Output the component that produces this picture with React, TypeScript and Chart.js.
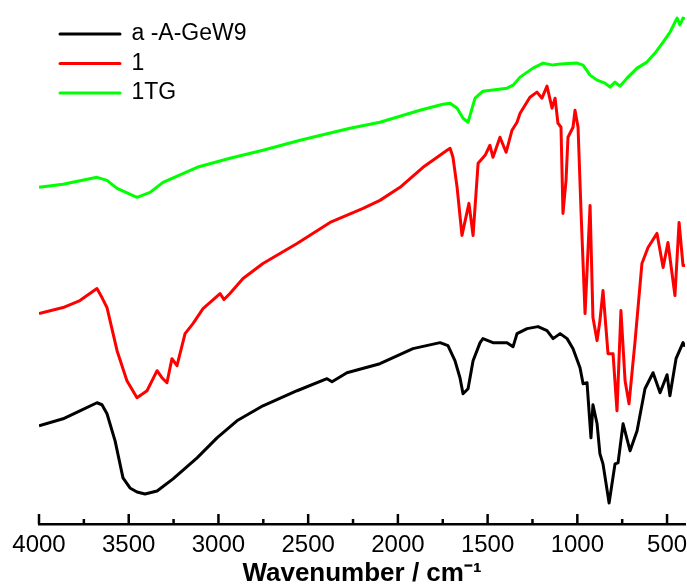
import React, { useEffect, useRef } from "react";
import { Chart, registerables } from "chart.js";

Chart.register(...registerables);

// Wavenumber (cm^-1) and transmittance (arbitrary, offset units)
const blackWavenumbers = [4000, 3866, 3772, 3677, 3649, 3621, 3576, 3532, 3493, 3454, 3409, 3342, 3253, 3119, 3008, 2897, 2752, 2562, 2395, 2367, 2284, 2100, 1916, 1765, 1721, 1682, 1654, 1637, 1620, 1609, 1581, 1542, 1526, 1470, 1392, 1358, 1336, 1280, 1219, 1169, 1135, 1096, 1057, 1024, 985, 968, 946, 924, 913, 890, 874, 857, 823, 790, 773, 745, 706, 667, 623, 578, 539, 500, 484, 450, 411, 400];
const blackValues = [98, 105, 113, 121, 119, 110, 83, 46, 36, 32, 30, 33, 45, 66, 86, 103, 118, 133, 145, 142, 151, 160, 175, 181, 178, 163, 146, 130, 133, 135, 163, 181, 185, 181, 181, 177, 190, 195, 197, 193, 185, 190, 185, 175, 156, 140, 141, 86, 119, 100, 70, 60, 21, 60, 61, 100, 73, 93, 135, 151, 131, 149, 128, 165, 181, 177];

const redWavenumbers = [4000, 3866, 3772, 3677, 3649, 3621, 3565, 3510, 3454, 3398, 3342, 3315, 3287, 3259, 3231, 3186, 3142, 3086, 2991, 2969, 2936, 2863, 2752, 2562, 2378, 2194, 2100, 1988, 1860, 1726, 1709, 1693, 1670, 1643, 1604, 1581, 1553, 1514, 1487, 1470, 1431, 1397, 1364, 1336, 1319, 1264, 1225, 1197, 1169, 1141, 1124, 1108, 1091, 1080, 1063, 1052, 1024, 1013, 996, 979, 957, 929, 913, 890, 874, 857, 829, 801, 779, 757, 734, 712, 678, 640, 606, 556, 522, 495, 456, 433, 411, 400];
const redValues = [210, 216, 223, 235, 226, 216, 173, 143, 126, 133, 153, 146, 141, 165, 158, 190, 200, 215, 230, 224, 230, 245, 260, 280, 301, 315, 323, 336, 356, 373, 375, 366, 336, 288, 320, 288, 360, 368, 378, 366, 386, 371, 393, 401, 410, 426, 431, 425, 437, 415, 425, 400, 396, 310, 343, 386, 396, 413, 396, 310, 210, 318, 206, 183, 203, 233, 170, 170, 113, 213, 143, 120, 183, 260, 276, 290, 256, 281, 228, 301, 258, 258];

const greenWavenumbers = [4000, 3866, 3677, 3621, 3565, 3454, 3381, 3309, 3119, 2936, 2752, 2545, 2267, 2100, 1877, 1749, 1709, 1670, 1637, 1609, 1570, 1526, 1392, 1358, 1319, 1247, 1191, 1135, 1096, 1002, 968, 929, 890, 846, 818, 790, 762, 723, 667, 612, 567, 522, 483, 444, 428, 411, 400];
const greenValues = [336, 339, 346, 343, 335, 326, 331, 341, 356, 365, 373, 383, 395, 401, 413, 419, 420, 415, 405, 401, 425, 432, 435, 438, 446, 455, 460, 458, 459, 460, 458, 448, 443, 440, 436, 441, 437, 445, 455, 461, 470, 481, 491, 505, 498, 505, 504];

const seriesLabels = ["a -A-GeW9", "1", "1TG"];
const tickValues = [500, 750, 1000, 1250, 1500, 1750, 2000, 2250, 2500, 2750, 3000, 3250, 3500, 3750, 4000];
const labeledTicks = [500, 1000, 1500, 2000, 2500, 3000, 3500, 4000];

const FONT = "'Liberation Sans', Arial, Helvetica, sans-serif";

const toPoints = (xs: number[], ys: number[]) => xs.map((x, i) => ({ x, y: ys[i] }));

const innerTicks = {
  id: "innerTicks",
  afterDraw(chart: any) {
    const scale = chart.scales.x;
    const ctx = chart.ctx;
    const y0 = scale.top;
    ctx.save();
    ctx.strokeStyle = "#000";
    ctx.lineWidth = 2.5;
    scale.ticks.forEach((t: any) => {
      const x = scale.getPixelForValue(t.value);
      const len = labeledTicks.includes(t.value) ? 10 : 5;
      ctx.beginPath();
      ctx.moveTo(x, y0);
      ctx.lineTo(x, y0 - len);
      ctx.stroke();
    });
    ctx.restore();
  },
};

const legendShift = {
  id: "legendShift",
  afterLayout(chart: any) {
    const lg = chart.legend;
    if (lg) {
      lg.left += 14.5;
      lg.top += 16;
    }
  },
};

export default function App() {
  const ref = useRef<HTMLCanvasElement>(null);
  useEffect(() => {
    if (!ref.current) return;
    const mk = (label: string, xs: number[], ys: number[], color: string) => ({
      label,
      data: toPoints(xs, ys),
      borderColor: color,
      backgroundColor: color,
      borderWidth: 3,
      pointRadius: 0,
      tension: 0,
      borderJoinStyle: "round" as const,
    });
    const chart = new Chart(ref.current, {
      type: "line",
      data: {
        datasets: [
          mk(seriesLabels[0], blackWavenumbers, blackValues, "#000000"),
          mk(seriesLabels[1], redWavenumbers, redValues, "#ff0000"),
          mk(seriesLabels[2], greenWavenumbers, greenValues, "#00ff00"),
        ],
      },
      options: {
        animation: false,
        responsive: false,
        devicePixelRatio: 1,
        events: [],
        layout: { padding: { left: 39, right: 2, top: 13, bottom: 0 } },
        scales: {
          x: {
            type: "linear",
            reverse: true,
            min: 400,
            max: 4000,
            afterBuildTicks: (s: any) => {
              s.ticks = tickValues.map((v) => ({ value: v }));
            },
            ticks: {
              autoSkip: false,
              maxRotation: 0,
              minRotation: 0,
              padding: 9,
              color: "#000",
              font: { family: FONT, size: 24, lineHeight: 1 },
              callback: (v: any) => (labeledTicks.includes(Number(v)) ? String(v) : ""),
            },
            grid: { display: false, drawTicks: false, tickLength: 0 },
            border: { display: true, color: "#000", width: 2.5 },
            title: {
              display: true,
              text: "Wavenumber / cm⁻¹",
              color: "#000",
              font: { family: FONT, size: 26, weight: "bold", lineHeight: 1 },
              padding: { top: -5, bottom: -3 },
            },
          },
          y: { display: false, min: 0, max: 510 },
        },
        plugins: {
          legend: {
            position: "chartArea",
            align: "start",
            labels: {
              boxWidth: 60,
              boxHeight: 0,
              padding: 6.5,
              color: "#000",
              font: { family: FONT, size: 23, lineHeight: 1 },
            },
          },
          tooltip: { enabled: false },
        },
      },
      plugins: [innerTicks, legendShift],
    } as any);
    return () => chart.destroy();
  }, []);
  return (
    <div style={{ position: "fixed", left: 0, top: 0, width: 687, height: 584, background: "#fff" }}>
      <canvas ref={ref} width={687} height={584} style={{ display: "block" }} />
    </div>
  );
}
